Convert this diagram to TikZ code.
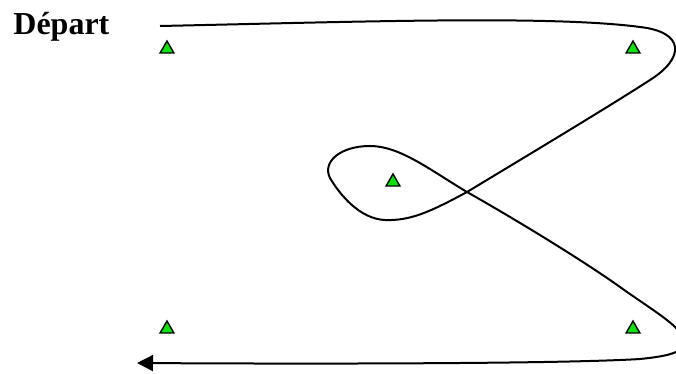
\documentclass[tikz,border=0pt]{standalone}
\usepackage{fontspec}
\setmainfont{Liberation Serif}
\usetikzlibrary{arrows.meta,shapes.geometric}
\definecolor{leaf}{RGB}{0,230,0}
\tikzset{
  >={Triangle[length=8pt,width=8pt]},
  cone/.style={regular polygon,regular polygon sides=3,draw=black,fill=leaf,
    line width=0.7pt,minimum size=8pt,inner sep=0pt},
  route/.style={line width=1pt,draw=black},
  title/.style={font=\fontsize{16}{19}\selectfont\bfseries,anchor=base west,inner sep=0pt},
}

\begin{document}
\begin{tikzpicture}[x=0.5pt,y=-0.5pt]
  \useasboundingbox (0,0) rectangle (676,374);
  \node[title] (depart) at (13,35) {Départ};
  % plots
  \node[cone] (nw) at (167,49) {};
  \node[cone] (ne) at (633,49) {};
  \node[cone] (mid) at (393,182) {};
  \node[cone] (sw) at (167,329) {};
  \node[cone] (se) at (633,329) {};
  % parcours
  \coordinate (start) at (160,26);
  \coordinate (finish) at (137,363);
  \draw[route,->] (start) .. controls (350,22) and (550,15) .. (640,27)
    .. controls (685,32) and (685,58) .. (650,80)
    .. controls (610,106) and (520,160) .. (467,192)
    .. controls (430,212) and (410,221) .. (385,220)
    .. controls (360,219) and (340,195) .. (330,178)
    .. controls (322,162) and (340,146) .. (370,146)
    .. controls (400,146) and (430,170) .. (467,192)
    .. controls (520,222) and (585,262) .. (620,287)
    .. controls (655,312) and (684,328) .. (684,342)
    .. controls (684,352) and (670,356) .. (640,359)
    .. controls (560,364) and (300,364) .. (finish);
\end{tikzpicture}
\end{document}
